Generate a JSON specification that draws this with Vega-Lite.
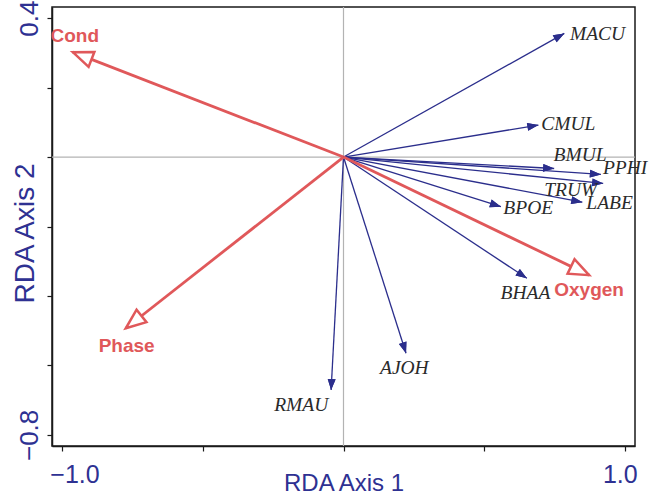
{
  "$schema": "https://vega.github.io/schema/vega-lite/v6.json",
  "width": 583,
  "height": 439,
  "autosize": {"type": "none"},
  "padding": {"left": 52, "top": 7, "right": 14, "bottom": 50},
  "background": "white",
  "config": {
    "view": {"stroke": "#1a1a1a", "strokeWidth": 1.5},
    "axis": {"grid": false}
  },
  "datasets": {
    "species": [
      {"name": "MACU", "x": 0.784, "y": 0.356, "lx": 0.902, "ly": 0.355},
      {"name": "CMUL", "x": 0.692, "y": 0.092, "lx": 0.798, "ly": 0.096},
      {"name": "BMUL", "x": 0.748, "y": -0.033, "lx": 0.840, "ly": 0.006},
      {"name": "PPHI", "x": 0.914, "y": -0.050, "lx": 1.000, "ly": -0.032},
      {"name": "TRUW", "x": 0.922, "y": -0.076, "lx": 0.807, "ly": -0.095},
      {"name": "LABE", "x": 0.848, "y": -0.130, "lx": 0.945, "ly": -0.132},
      {"name": "BPOE", "x": 0.559, "y": -0.143, "lx": 0.656, "ly": -0.148},
      {"name": "BHAA", "x": 0.651, "y": -0.349, "lx": 0.646, "ly": -0.391},
      {"name": "AJOH", "x": 0.222, "y": -0.565, "lx": 0.216, "ly": -0.608},
      {"name": "RMAU", "x": -0.044, "y": -0.671, "lx": -0.150, "ly": -0.714}
    ],
    "env": [
      {"name": "Cond", "x": -0.961, "y": 0.302, "lx": -0.954, "ly": 0.348},
      {"name": "Phase", "x": -0.773, "y": -0.493, "lx": -0.770, "ly": -0.544},
      {"name": "Oxygen", "x": 0.872, "y": -0.340, "lx": 0.872, "ly": -0.384}
    ],
    "origin": [{"x": 0, "y": 0}]
  },
  "layer": [
    {
      "data": {"name": "species"},
      "transform": [{"calculate": "90 + atan2(-datum.y * 347.3, datum.x * 281.6) * 180 / PI", "as": "ang"}],
      "mark": {"type": "point", "shape": "M0,0L-0.36,1L0.36,1Z", "filled": true, "color": "#2b2e8c", "opacity": 1, "size": 484},
      "encoding": {
        "x": {
          "field": "x", "type": "quantitative",
          "scale": {"domain": [-1.035, 1.035], "nice": false, "zero": false},
          "axis": {
            "title": "RDA Axis 1",
            "values": [-1, -0.5, 0, 0.5, 1],
            "labelExpr": "datum.value == -1 ? '\u22121.0' : (datum.value == 1 ? '1.0' : '')",
            "domainColor": "#1a1a1a", "domainWidth": 1.5,
            "tickColor": "#1a1a1a", "tickSize": 5, "tickWidth": 1.2,
            "labelFont": "Liberation Sans, Arial",
            "labelFontSize": 25, "labelColor": "#2e3192", "labelPadding": 11,
            "labelFlush": 15, "labelFlushOffset": 12, "labelOverlap": false,
            "titleFont": "Liberation Sans, Arial",
            "titleFontSize": 24, "titleFontWeight": "normal", "titleColor": "#2e3192",
            "titleBaseline": "alphabetic", "titleY": 44
          }
        },
        "y": {
          "field": "y", "type": "quantitative",
          "scale": {"domain": [-0.832, 0.432], "nice": false, "zero": false},
          "axis": {
            "title": "RDA Axis 2",
            "values": [0.4, 0.2, 0, -0.2, -0.4, -0.6, -0.8],
            "labelExpr": "datum.value == 0.4 ? '0.4' : (datum.value == -0.8 ? '\u22120.8' : '')",
            "domainColor": "#1a1a1a", "domainWidth": 1.5,
            "tickColor": "#1a1a1a", "tickSize": 5, "tickWidth": 1.2,
            "labelFont": "Liberation Sans, Arial",
            "labelFontSize": 26, "labelColor": "#2e3192", "labelPadding": 10,
            "labelAngle": 270, "labelAlign": "center", "labelBaseline": "alphabetic",
            "labelFlush": false, "labelOverlap": false,
            "encode": {"labels": {"dx": {"signal": "datum.value > 0 ? -12 : 15"}}},
            "titleFont": "Liberation Sans, Arial",
            "titleFontSize": 28, "titleFontWeight": "normal", "titleColor": "#2e3192",
            "titleAngle": 270, "titleAlign": "center", "titleBaseline": "alphabetic",
            "titleX": -19, "titleY": 226
          }
        },
        "angle": {"field": "ang", "type": "quantitative", "scale": null}
      }
    },
    {
      "data": {"name": "origin"},
      "mark": {"type": "rule", "color": "#b3b3b3", "strokeWidth": 1.2},
      "encoding": {"x": {"field": "x", "type": "quantitative", "scale": {"domain": [-1.035, 1.035], "nice": false, "zero": false}}}
    },
    {
      "data": {"name": "origin"},
      "mark": {"type": "rule", "color": "#b3b3b3", "strokeWidth": 1.2},
      "encoding": {"y": {"field": "y", "type": "quantitative", "scale": {"domain": [-0.832, 0.432], "nice": false, "zero": false}}}
    },
    {
      "data": {"name": "species"},
      "mark": {"type": "rule", "color": "#2b2e8c", "strokeWidth": 1.3},
      "encoding": {
        "x": {"field": "x", "type": "quantitative", "scale": {"domain": [-1.035, 1.035], "nice": false, "zero": false}},
        "y": {"field": "y", "type": "quantitative", "scale": {"domain": [-0.832, 0.432], "nice": false, "zero": false}},
        "x2": {"datum": 0}, "y2": {"datum": 0}
      }
    },
    {
      "data": {"name": "species"},
      "transform": [{"calculate": "90 + atan2(-datum.y * 347.3, datum.x * 281.6) * 180 / PI", "as": "ang"}],
      "mark": {"type": "point", "shape": "M0,0L-0.36,1L0.36,1Z", "filled": true, "color": "#2b2e8c", "opacity": 1, "size": 484},
      "encoding": {
        "x": {"field": "x", "type": "quantitative", "scale": {"domain": [-1.035, 1.035], "nice": false, "zero": false}},
        "y": {"field": "y", "type": "quantitative", "scale": {"domain": [-0.832, 0.432], "nice": false, "zero": false}},
        "angle": {"field": "ang", "type": "quantitative", "scale": null}
      }
    },
    {
      "data": {"name": "species"},
      "mark": {"type": "text", "font": "Liberation Serif, Times New Roman", "fontStyle": "italic", "fontSize": 19.5, "color": "#2a2a2a", "align": "center", "baseline": "middle"},
      "encoding": {
        "x": {"field": "lx", "type": "quantitative", "scale": {"domain": [-1.035, 1.035], "nice": false, "zero": false}},
        "y": {"field": "ly", "type": "quantitative", "scale": {"domain": [-0.832, 0.432], "nice": false, "zero": false}},
        "text": {"field": "name", "type": "nominal"}
      }
    },
    {
      "data": {"name": "env"},
      "mark": {"type": "rule", "color": "#e0585a", "strokeWidth": 2.8},
      "encoding": {
        "x": {"field": "x", "type": "quantitative", "scale": {"domain": [-1.035, 1.035], "nice": false, "zero": false}},
        "y": {"field": "y", "type": "quantitative", "scale": {"domain": [-0.832, 0.432], "nice": false, "zero": false}},
        "x2": {"datum": 0}, "y2": {"datum": 0}
      }
    },
    {
      "data": {"name": "env"},
      "transform": [{"calculate": "90 + atan2(-datum.y * 347.3, datum.x * 281.6) * 180 / PI", "as": "ang"}],
      "mark": {"type": "point", "shape": "M0,0L-0.4,1L0.4,1Z", "filled": true, "fill": "white", "stroke": "#e0585a", "strokeWidth": 2.5, "opacity": 1, "size": 1600},
      "encoding": {
        "x": {"field": "x", "type": "quantitative", "scale": {"domain": [-1.035, 1.035], "nice": false, "zero": false}},
        "y": {"field": "y", "type": "quantitative", "scale": {"domain": [-0.832, 0.432], "nice": false, "zero": false}},
        "angle": {"field": "ang", "type": "quantitative", "scale": null}
      }
    },
    {
      "data": {"name": "env"},
      "mark": {"type": "text", "font": "Liberation Sans, Arial", "fontWeight": "bold", "fontSize": 19, "color": "#e0585a", "align": "center", "baseline": "middle"},
      "encoding": {
        "x": {"field": "lx", "type": "quantitative", "scale": {"domain": [-1.035, 1.035], "nice": false, "zero": false}},
        "y": {"field": "ly", "type": "quantitative", "scale": {"domain": [-0.832, 0.432], "nice": false, "zero": false}},
        "text": {"field": "name", "type": "nominal"}
      }
    }
  ]
}
